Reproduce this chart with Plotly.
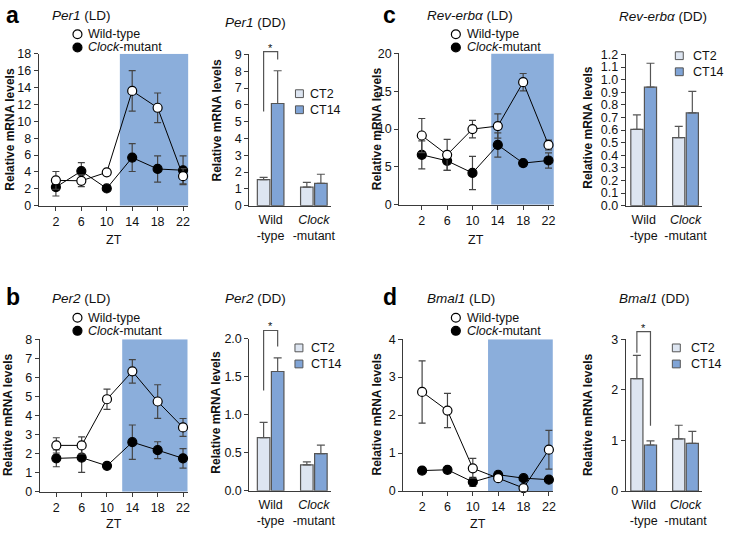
import plotly.graph_objects as go

W, H = 729, 538
FONT = "Liberation Sans, Arial, Helvetica, sans-serif"
SHADE = "rgb(139,174,219)"
CT2_COLOR = "rgb(221,229,241)"
CT14_COLOR = "rgb(128,164,214)"
AX = "#3a3a3a"
ERR = "#444444"

# ---------------- data ----------------
ZT = [2, 6, 10, 14, 18, 22]

per1_ld_wt = [3.0, 2.95, 3.95, 13.6, 11.6, 3.5]
per1_ld_wt_err = [1.05, 0.7, 0.0, 2.4, 1.75, 0.9]
per1_ld_clk = [2.2, 4.1, 2.05, 5.7, 4.35, 4.2]
per1_ld_clk_err = [1.05, 1.0, 0.3, 1.65, 1.55, 1.7]

rev_ld_wt = [9.15, 6.6, 10.0, 10.4, 16.2, 7.9]
rev_ld_wt_err = [2.25, 2.05, 1.15, 1.6, 1.15, 0.65]
rev_ld_clk = [6.6, 5.8, 4.2, 7.9, 5.5, 5.85]
rev_ld_clk_err = [1.85, 1.25, 2.2, 1.6, 0.3, 1.0]

per2_ld_wt = [2.43, 2.43, 4.85, 6.31, 4.73, 3.37]
per2_ld_wt_err = [0.4, 0.45, 0.53, 0.62, 0.88, 0.47]
per2_ld_clk = [1.75, 1.79, 1.36, 2.6, 2.18, 1.75]
per2_ld_clk_err = [0.44, 0.77, 0.05, 0.9, 0.44, 0.51]

bmal_ld_wt = [2.61, 2.12, 0.6, 0.34, 0.08, 1.09]
bmal_ld_wt_err = [0.82, 0.45, 0.26, 0.05, 0.03, 0.51]
bmal_ld_clk = [0.54, 0.56, 0.24, 0.43, 0.34, 0.3]
bmal_ld_clk_err = [0.05, 0.08, 0.12, 0.05, 0.04, 0.04]

GENOTYPE_POS = [0, 1]
GENOTYPE_LABELS = ["Wild<br>-type", "<i>Clock</i><br>-mutant"]

per1_dd_ct2 = [1.55, 1.1]
per1_dd_ct2_err = [0.13, 0.29]
per1_dd_ct14 = [6.08, 1.33]
per1_dd_ct14_err = [1.95, 0.54]

rev_dd_ct2 = [0.606, 0.54]
rev_dd_ct2_err = [0.115, 0.09]
rev_dd_ct14 = [0.94, 0.737]
rev_dd_ct14_err = [0.19, 0.17]

per2_dd_ct2 = [0.70, 0.34]
per2_dd_ct2_err = [0.2, 0.04]
per2_dd_ct14 = [1.57, 0.49]
per2_dd_ct14_err = [0.18, 0.11]

bmal_dd_ct2 = [2.22, 1.03]
bmal_dd_ct2_err = [0.46, 0.27]
bmal_dd_ct14 = [0.91, 0.94]
bmal_dd_ct14_err = [0.08, 0.24]

# significance brackets: (top, left end, right end) in data units
per1_sig = (9.17, 5.6, 8.7)
per2_sig = (2.11, 1.32, 1.9)
bmal_sig = (3.15, 2.73, 1.29)


def fx(p):
    return p / W


def fy(p):
    return 1 - p / H


fig = go.Figure()
layout = dict(
    width=W, height=H, margin=dict(l=0, r=0, t=0, b=0),
    paper_bgcolor="white", plot_bgcolor="rgba(0,0,0,0)",
    showlegend=False, barmode="overlay",
    font=dict(family=FONT, size=12, color="#111"),
)
shapes = []
annotations = []

line_panels = [
    dict(n=1, wt=per1_ld_wt, wte=per1_ld_wt_err, clk=per1_ld_clk, clke=per1_ld_clk_err,
         xpx=(39, 189.7), ypx=(48, 204), xr=(-0.7, 22.84), yr=(0, 18), dt=2, shade=12.06,
         leg=(78, 28), zt=(115, 239)),
    dict(n=3, wt=rev_ld_wt, wte=rev_ld_wt_err, clk=rev_ld_clk, clke=rev_ld_clk_err,
         xpx=(402, 557.7), ypx=(47.7, 203), xr=(-1.56, 22.85), yr=(0, 20), dt=5, shade=12.96,
         leg=(459, 28), zt=(479, 239)),
    dict(n=5, wt=per2_ld_wt, wte=per2_ld_wt_err, clk=per2_ld_clk, clke=per2_ld_clk_err,
         xpx=(40, 189), ypx=(341, 497.7), xr=(-0.62, 22.74), yr=(0, 8), dt=1, shade=12.4,
         leg=(78, 319), zt=(115, 531)),
    dict(n=7, wt=bmal_ld_wt, wte=bmal_ld_wt_err, clk=bmal_ld_clk, clke=bmal_ld_clk_err,
         xpx=(406, 556.7), ypx=(341, 497), xr=(-0.98, 22.63), yr=(0, 4), dt=1, shade=12.4,
         leg=(459, 319), zt=(481, 531)),
]

for p in line_panels:
    n = p["n"]
    xa, ya = f"x{n}", f"y{n}"
    for vals, errs, fill in ((p["clk"], p["clke"], "black"), (p["wt"], p["wte"], "white")):
        fig.add_trace(go.Scatter(
            x=ZT, y=vals, xaxis=xa, yaxis=ya, mode="lines+markers", cliponaxis=False,
            line=dict(color="black", width=1),
            marker=dict(symbol="circle", size=9, color=fill, line=dict(color="black", width=1.2)),
            error_y=dict(type="data", array=errs, color=ERR, thickness=1.2, width=3.5),
        ))
    layout[f"xaxis{n}"] = dict(
        domain=[fx(p["xpx"][0]), fx(p["xpx"][1])], range=list(p["xr"]), anchor=ya,
        tickvals=ZT, ticks="outside", ticklen=4, tickcolor=AX, showline=True, linecolor=AX,
        linewidth=1, showgrid=False, zeroline=False, tickfont=dict(size=12.5), fixedrange=True)
    layout[f"yaxis{n}"] = dict(
        domain=[fy(p["ypx"][1]), fy(p["ypx"][0])], range=list(p["yr"]), anchor=xa,
        dtick=p["dt"], tick0=0, ticks="outside", ticklen=4, tickcolor=AX, showline=True,
        linecolor=AX, linewidth=1, showgrid=False, zeroline=False, tickfont=dict(size=12.5),
        fixedrange=True)
    shapes.append(dict(type="rect", xref=xa, yref=ya, x0=p["shade"], x1=p["xr"][1],
                       y0=p["yr"][0], y1=p["yr"][1], fillcolor=SHADE, line=dict(width=0),
                       layer="below"))
    # legend
    lx, ly = p["leg"]
    for k, (fill, label) in enumerate((("white", "Wild-type"), ("black", "<i>Clock</i>-mutant"))):
        cy = ly + k * 13.5
        shapes.append(dict(type="circle", xref="paper", yref="paper",
                           x0=fx(lx - 4.5), x1=fx(lx + 4.5), y0=fy(cy + 4.5), y1=fy(cy - 4.5),
                           fillcolor=fill, line=dict(color="black", width=1.2)))
        annotations.append(dict(x=fx(lx + 9), y=fy(cy), xref="paper", yref="paper",
                                text=label, showarrow=False, xanchor="left", yanchor="middle",
                                font=dict(size=12.5)))
    annotations.append(dict(x=fx(p["zt"][0]), y=fy(p["zt"][1]), xref="paper", yref="paper",
                            text="ZT", showarrow=False, xanchor="center", yanchor="middle",
                            font=dict(size=12.5)))

BW = 0.29
GAP = 0.035
OFF2 = -(BW + GAP / 2)
OFF14 = GAP / 2
C2 = OFF2 + BW / 2
C14 = OFF14 + BW / 2

bar_panels = [
    dict(n=2, ct2=per1_dd_ct2, ct2e=per1_dd_ct2_err, ct14=per1_dd_ct14, ct14e=per1_dd_ct14_err,
         xpx=(251, 333), ypx=(48.7, 204), xr=(-0.494, 1.39), yr=(0, 9), dt=1, fmt="d",
         sig=per1_sig, leg=(301.5, 89), tx=310),
    dict(n=4, ct2=rev_dd_ct2, ct2e=rev_dd_ct2_err, ct14=rev_dd_ct14, ct14e=rev_dd_ct14_err,
         xpx=(630, 706.7), ypx=(48.7, 204), xr=(-0.43, 1.39), yr=(0, 1.2), dt=0.1, fmt=".1f",
         sig=None, leg=(684, 50), tx=696),
    dict(n=6, ct2=per2_dd_ct2, ct2e=per2_dd_ct2_err, ct14=per2_dd_ct14, ct14e=per2_dd_ct14_err,
         xpx=(251, 333), ypx=(340.7, 496.7), xr=(-0.494, 1.39), yr=(0, 2), dt=0.5, fmt=".1f",
         sig=per2_sig, leg=(301, 350), tx=311),
    dict(n=8, ct2=bmal_dd_ct2, ct2e=bmal_dd_ct2_err, ct14=bmal_dd_ct14, ct14e=bmal_dd_ct14_err,
         xpx=(630, 706.7), ypx=(341, 497), xr=(-0.43, 1.39), yr=(0, 3), dt=1, fmt="d",
         sig=bmal_sig, leg=(681, 350), tx=694),
]

for p in bar_panels:
    n = p["n"]
    xa, ya = f"x{n}", f"y{n}"
    for vals, errs, off, col in ((p["ct2"], p["ct2e"], OFF2, CT2_COLOR),
                                 (p["ct14"], p["ct14e"], OFF14, CT14_COLOR)):
        fig.add_trace(go.Bar(
            x=GENOTYPE_POS, y=vals, xaxis=xa, yaxis=ya, width=BW, offset=off,
            marker=dict(color=col, line=dict(color="#555555", width=1.2)),
            error_y=dict(type="data", symmetric=False, array=errs, arrayminus=[0, 0],
                         color="#555555", thickness=1.2, width=4),
        ))
    layout[f"xaxis{n}"] = dict(
        domain=[fx(p["xpx"][0]), fx(p["xpx"][1])], range=list(p["xr"]), anchor=ya,
        tickvals=GENOTYPE_POS, ticktext=GENOTYPE_LABELS, ticks="outside", ticklen=2,
        tickcolor="rgba(0,0,0,0)", showline=True, linecolor=AX, linewidth=1, showgrid=False,
        zeroline=False, tickfont=dict(size=12.5), fixedrange=True)
    layout[f"yaxis{n}"] = dict(
        domain=[fy(p["ypx"][1]), fy(p["ypx"][0])], range=list(p["yr"]), anchor=xa,
        dtick=p["dt"], tick0=0, tickformat=p["fmt"], ticks="outside", ticklen=4, tickcolor=AX,
        showline=True, linecolor=AX, linewidth=1, showgrid=False, zeroline=False,
        tickfont=dict(size=12.5), fixedrange=True)

    def xp(v, p=p):
        l, r = p["xpx"]
        return fx(l + (v - p["xr"][0]) / (p["xr"][1] - p["xr"][0]) * (r - l))

    def yp(v, p=p):
        t, b = p["ypx"]
        return fy(b - (v - p["yr"][0]) / (p["yr"][1] - p["yr"][0]) * (b - t))

    if p["sig"]:
        top, lft, rgt = p["sig"]
        path = (f"M {xp(C2)},{yp(lft)} L {xp(C2)},{yp(top)} "
                f"L {xp(C14)},{yp(top)} L {xp(C14)},{yp(rgt)}")
        shapes.append(dict(type="path", xref="paper", yref="paper", path=path,
                           line=dict(color="#555555", width=1.2)))
        annotations.append(dict(x=(xp(C2) + xp(C14)) / 2, y=yp(top), xref="paper", yref="paper",
                                text="*", showarrow=False, xanchor="center", yanchor="bottom",
                                yshift=-4, font=dict(size=11)))
    lx, ly = p["leg"]
    for k, (col, label) in enumerate(((CT2_COLOR, "CT2"), (CT14_COLOR, "CT14"))):
        cy = ly + k * 16.5
        shapes.append(dict(type="rect", xref="paper", yref="paper",
                           x0=fx(lx - 4), x1=fx(lx + 4), y0=fy(cy + 4), y1=fy(cy - 4),
                           fillcolor=col, line=dict(color="#555555", width=1)))
        annotations.append(dict(x=fx(p["tx"]), y=fy(cy), xref="paper", yref="paper",
                                text=label, showarrow=False, xanchor="left", yanchor="middle",
                                font=dict(size=12.5)))

# y-axis titles
for x, y in ((10, 125), (218, 116), (379, 125), (592, 123),
             (8, 418), (218, 416), (380, 418), (592, 418)):
    annotations.append(dict(x=fx(x), y=fy(y), xref="paper", yref="paper",
                            text="<b>Relative mRNA levels</b>", textangle=-90, showarrow=False,
                            xanchor="center", yanchor="middle", font=dict(size=12)))

# panel letters
for letter, x, y in (("a", 4, 8), ("c", 384, 8), ("b", 4, 298), ("d", 384, 298)):
    annotations.append(dict(x=fx(x), y=fy(y), xref="paper", yref="paper",
                            text=f"<b>{letter}</b>", showarrow=False, xanchor="left",
                            yanchor="middle", font=dict(size=23, color="black")))

# panel titles
for text, x, y, anchor in (
        ("<i>Per1</i> (LD)", 50, 9, "left"), ("<i>Per1</i> (DD)", 257, 15.5, "center"),
        ("<i>Rev-erbα</i> (LD)", 428, 9, "left"), ("<i>Rev-erbα</i> (DD)", 668, 9.5, "center"),
        ("<i>Per2</i> (LD)", 50, 299, "left"), ("<i>Per2</i> (DD)", 257, 299.5, "center"),
        ("<i>Bmal1</i> (LD)", 428, 299, "left"), ("<i>Bmal1</i> (DD)", 659, 299.5, "center")):
    annotations.append(dict(x=fx(x), y=fy(y), xref="paper", yref="paper", text=text,
                            showarrow=False, xanchor=anchor, yanchor="middle",
                            font=dict(size=13.5)))

layout["shapes"] = shapes
layout["annotations"] = annotations
fig.update_layout(**layout)
fig.write_html(
    "out.html",
    config={"displayModeBar": False, "responsive": False},
    post_script="document.body.style.margin='0';document.body.style.padding='0';",
)
